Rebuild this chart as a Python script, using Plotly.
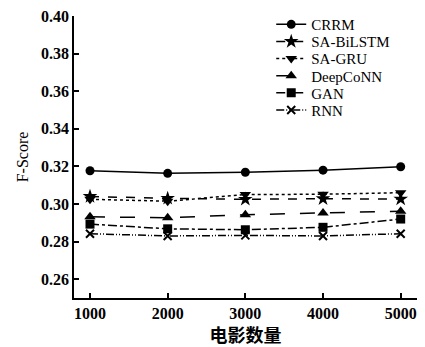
import plotly.graph_objects as go

x_vals = [1000, 2000, 3000, 4000, 5000]
crrm = [0.3177, 0.3163, 0.3169, 0.3180, 0.3198]
sa_bilstm = [0.3040, 0.3030, 0.3025, 0.3028, 0.3026]
sa_gru = [0.3025, 0.3015, 0.3050, 0.3052, 0.3060]
deepconn = [0.2932, 0.2927, 0.2943, 0.2952, 0.2962]
gan = [0.2893, 0.2868, 0.2863, 0.2876, 0.2920]
rnn = [0.2842, 0.2830, 0.2833, 0.2830, 0.2842]

names = ["CRRM", "SA-BiLSTM", "SA-GRU", "DeepCoNN", "GAN", "RNN"]
series = [crrm, sa_bilstm, sa_gru, deepconn, gan, rnn]
symbols = ["circle", "star", "triangle-down", "triangle-up", "square", "x-thin-open"]
dashes = ["solid", "dash", "dot", "longdash", "dashdot", "8px,2px,1px,2px,1px,2px"]
sizes = [9, 11, 10, 10, 9, 8]

SERIF = "Liberation Serif"

fig = go.Figure()
legend_layout = {}
top_px, plot_h = 13, 285
for i, (n, s, sym, d, sz) in enumerate(zip(names, series, symbols, dashes, sizes)):
    lname = "legend" if i == 0 else f"legend{i+1}"
    fig.add_trace(go.Scatter(
        x=x_vals, y=s, name=n, mode="lines+markers", legend=lname,
        line=dict(color="black", width=1.5, dash=d),
        marker=dict(symbol=sym, size=sz, color="black",
                    line=dict(color="black", width=2 if sym == "x-thin-open" else 0)),
    ))
    center_px = 21.7 + 17.3 * i
    legend_layout[lname] = dict(
        x=0.575, y=1 - (center_px - top_px) / plot_h, xanchor="left", yanchor="middle",
        font=dict(family=SERIF, size=15, color="black"),
        bgcolor="rgba(0,0,0,0)", borderwidth=0,
    )

fig.update_layout(
    width=425, height=347,
    margin=dict(l=74, r=8, t=13, b=49),
    plot_bgcolor="white", paper_bgcolor="white",
    font=dict(family=SERIF, color="black"),
    showlegend=True,
    **legend_layout,
)
fig.update_xaxes(
    range=[794, 5210], tickvals=x_vals, ticktext=[str(v) for v in x_vals],
    ticks="inside", ticklen=5, tickwidth=1.5, tickcolor="black",
    showline=True, linecolor="black", linewidth=1.5, showgrid=False, zeroline=False,
    tickfont=dict(family=SERIF, size=16, color="black", weight="bold"),
    title=dict(text="电影数量", font=dict(family="Noto Sans CJK SC", size=18, color="black", weight="bold"), standoff=0),
)
fig.update_yaxes(
    range=[0.25, 0.40], tickvals=[0.26, 0.28, 0.30, 0.32, 0.34, 0.36, 0.38, 0.40],
    tickformat=".2f",
    ticks="inside", ticklen=5, tickwidth=1.5, tickcolor="black",
    showline=True, linecolor="black", linewidth=1.5, showgrid=False, zeroline=False,
    tickfont=dict(family=SERIF, size=16, color="black", weight="bold"),
    title=dict(text="F-Score", font=dict(family=SERIF, size=16, color="black"), standoff=8),
)
fig.write_html("out.html")
